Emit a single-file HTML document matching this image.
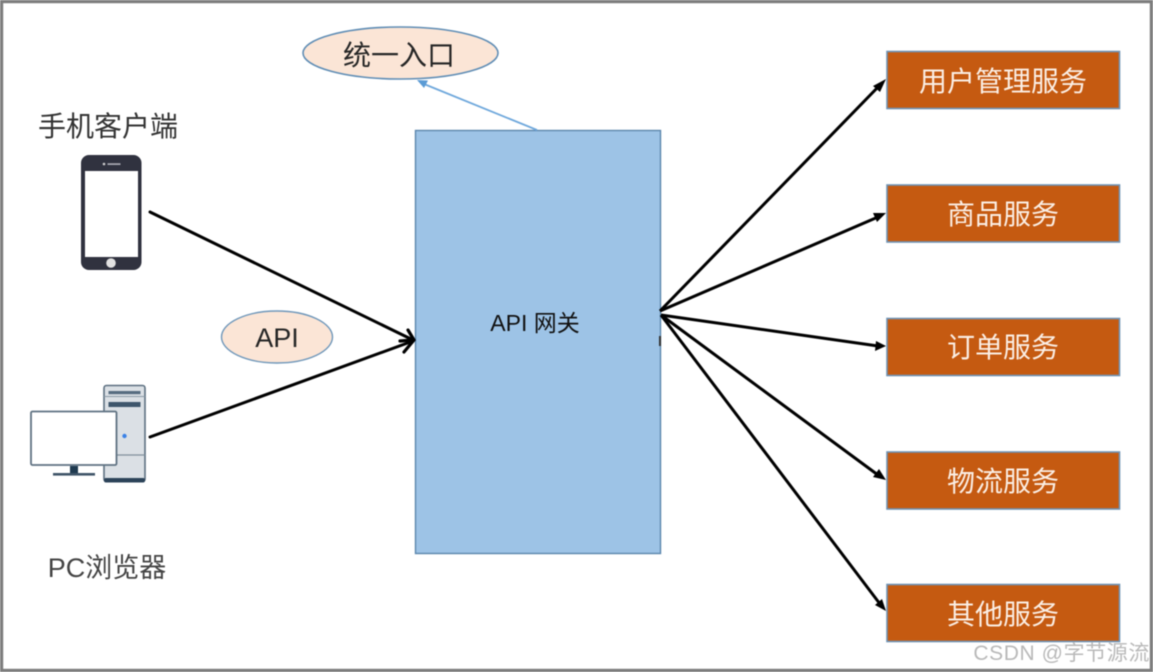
<!DOCTYPE html>
<html><head><meta charset="utf-8"><style>
html,body{margin:0;padding:0;background:#fff;width:1153px;height:672px;overflow:hidden}
svg{display:block;filter:blur(.55px)}
text{font-family:"Liberation Sans","Noto Sans CJK SC",sans-serif}
</style></head><body>
<svg width="1153" height="672" viewBox="0 0 1153 672" xmlns="http://www.w3.org/2000/svg">
<rect x="1.5" y="1.5" width="1150" height="669" fill="#fff" stroke="#7d7d7d" stroke-width="3.4"/>

<!-- gateway -->
<rect x="415.5" y="130.5" width="245" height="423" fill="#9dc3e6" stroke="#5b86ad" stroke-width="1.4"/>
<text x="535" y="331" font-size="23" fill="#111" text-anchor="middle">API 网关</text>

<!-- ellipses -->
<ellipse cx="400.5" cy="53" rx="97.5" ry="26" fill="#fbe5d6" stroke="#5f8db5" stroke-width="1.6"/>
<text x="399" y="65" font-size="28" fill="#262626" text-anchor="middle">统一入口</text>
<ellipse cx="277" cy="337" rx="55.5" ry="26" fill="#fbe5d6" stroke="#6f97ba" stroke-width="1.4"/>
<text x="277" y="347" font-size="27" fill="#262626" text-anchor="middle">API</text>

<!-- blue arrow -->
<line x1="537" y1="130" x2="424" y2="84" stroke="#6fa8dc" stroke-width="1.8"/>
<polygon points="417,80 428,80.5 424,88" fill="#5b9bd5"/>

<!-- services -->
<g fill="#c55a11" stroke="#6f93b5" stroke-width="1.6">
<rect x="887" y="51.5" width="232.5" height="57"/>
<rect x="887" y="185" width="232.5" height="57"/>
<rect x="887" y="318.5" width="232.5" height="57"/>
<rect x="887" y="452" width="232.5" height="57"/>
<rect x="887" y="584.5" width="232.5" height="57"/>
</g>
<g fill="#fbeee4" font-size="28" text-anchor="middle">
<text x="1003" y="91">用户管理服务</text>
<text x="1003" y="224">商品服务</text>
<text x="1003" y="357">订单服务</text>
<text x="1003" y="491">物流服务</text>
<text x="1003" y="624">其他服务</text>
</g>

<!-- black connectors -->
<g stroke="#000" stroke-width="3" fill="none" stroke-linecap="round">
<line x1="150" y1="212" x2="413" y2="340"/>
<line x1="150" y1="437" x2="413" y2="341"/>
<path d="M408 330 L414 340 L404 352" stroke-width="3.2"/>
<line x1="400" y1="341" x2="413" y2="340" stroke-width="3.2"/>
</g>
<g stroke="#000" stroke-width="3" fill="none">
<line x1="660" y1="311" x2="880" y2="85"/>
<line x1="660" y1="311" x2="878" y2="217"/>
<line x1="661" y1="315" x2="878" y2="346"/>
<line x1="661" y1="315" x2="878" y2="475"/>
<line x1="661" y1="315" x2="880" y2="604"/>
</g>
<g fill="#000">
<polygon points="886,79 880,92 873,86"/>
<polygon points="886,213 877,222 873,213"/>
<polygon points="886,346 875,351 876,341"/>
<polygon points="886,480 873,477 879,469"/>
<polygon points="886,611 875,605 882,599"/>
</g>
<rect x="659" y="336" width="2" height="10" fill="#333"/>

<!-- left labels -->
<text x="108" y="136" font-size="28" fill="#333" text-anchor="middle">手机客户端</text>
<text x="107" y="577" font-size="27" fill="#444" text-anchor="middle">PC浏览器</text>

<!-- phone -->
<rect x="81" y="155" width="60.5" height="115" rx="8" fill="#30323f"/>
<rect x="85" y="171" width="53" height="86" fill="#fff"/>
<circle cx="111" cy="263" r="4.8" fill="#e2e2e2"/>
<circle cx="104" cy="164" r="1.3" fill="#d0d0d0"/>
<rect x="107.5" y="163.3" width="13" height="1.6" fill="#b0b0b8"/>

<!-- pc tower -->
<rect x="104" y="385.5" width="41" height="96" rx="2.5" fill="#dbe0e5" stroke="#5c6f80" stroke-width="1.6"/>
<rect x="104" y="478" width="41" height="4.5" rx="2" fill="#2c4359"/>
<rect x="108.5" y="391" width="32" height="3.2" fill="#566c80"/>
<rect x="108.5" y="402" width="32" height="5" fill="#3e566c"/>
<line x1="104" y1="396.5" x2="145" y2="396.5" stroke="#8a99a6" stroke-width="1"/>
<line x1="104" y1="455" x2="145" y2="455" stroke="#7f8f9c" stroke-width="1.3"/>
<circle cx="124.5" cy="436" r="2.2" fill="#3b82e6"/>
<!-- monitor -->
<rect x="31" y="411.5" width="85.5" height="53.5" rx="1.5" fill="#fff" stroke="#5f7282" stroke-width="1.8"/>
<rect x="70" y="466" width="8" height="8" fill="#1f3a50"/>
<rect x="53" y="473" width="42" height="2.6" fill="#3f5468"/>

<!-- watermark -->
<text x="1150" y="660" font-size="21" fill="#b9b9b9" text-anchor="end" letter-spacing=".6">CSDN @字节源流</text>
</svg>
</body></html>
